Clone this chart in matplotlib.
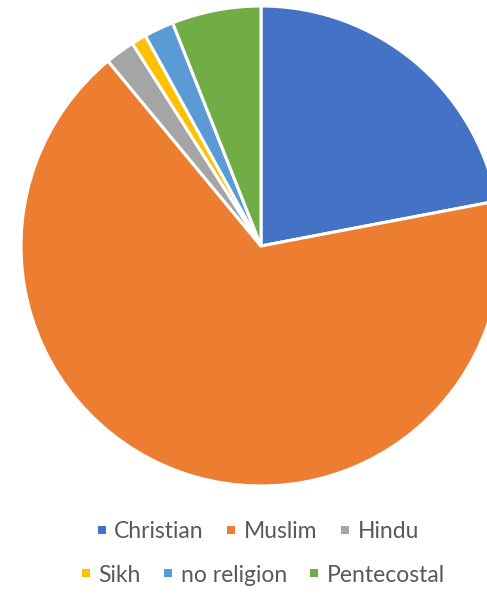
import matplotlib.pyplot as plt
from matplotlib.lines import Line2D

labels = ["Christian", "Muslim", "Hindu", "Sikh", "no religion", "Pentecostal"]
shares = [22, 67, 2, 1, 2, 6]
colors = ["#4472C4", "#ED7D31", "#A5A5A5", "#FFC000", "#5B9BD5", "#70AD47"]

W, H = 487, 594
fig = plt.figure(figsize=(W / 100, H / 100), dpi=100)

cx, cy, r = 261, 246, 240
ax = fig.add_axes([(cx - r) / W, (H - cy - r) / H, 2 * r / W, 2 * r / H])
wedges, _ = ax.pie(shares, colors=colors, startangle=90, counterclock=False,
                   radius=1.0, wedgeprops=dict(edgecolor="white", linewidth=2.2))
ax.set_xlim(-1, 1)
ax.set_ylim(-1, 1)
ax.set_aspect("equal")
ax.axis("off")

handles = [Line2D([], [], linestyle="none", marker="s", markersize=5.2,
                  markerfacecolor=w.get_facecolor(), markeredgewidth=0)
           for w in wedges]

font = dict(family=["Lato", "DejaVu Sans"], size=16.5)
common = dict(frameon=False, handlelength=0.4, handletextpad=0.35,
              columnspacing=1.0, prop=font, labelcolor="#595959",
              borderpad=0, borderaxespad=0)
fig.legend(handles[:3], labels[:3], ncol=3, loc="center",
           bbox_to_anchor=(258 / W, 1 - 532 / H), **common)
fig.legend(handles[3:], labels[3:], ncol=3, loc="center",
           bbox_to_anchor=(263 / W, 1 - 575 / H), **common)

fig.savefig("out.png", dpi=100)
